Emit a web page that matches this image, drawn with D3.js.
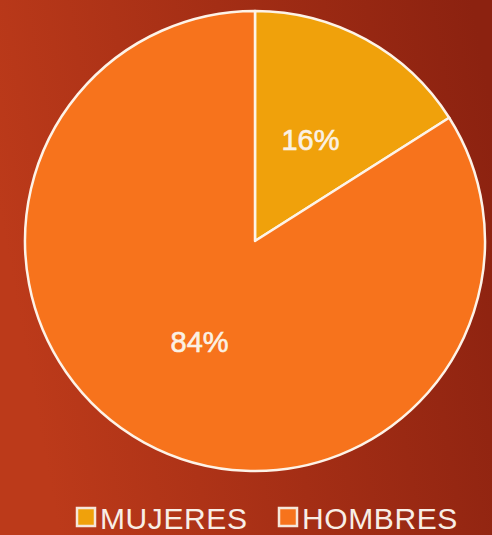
<!DOCTYPE html>
<html>
<head>
    <script src="https://d3js.org/d3.v7.min.js"></script>
    <style>
        body {
            margin: 0;
            overflow: hidden;
        }
        .slice-label {
            fill: #fbf1e4;
            stroke: #fbf1e4;
            stroke-width: 0.6px;
            font-family: 'Liberation Sans', Arial, sans-serif;
            font-size: 29px;
            text-anchor: middle;
        }
        .legend-label {
            fill: #f8eee6;
            font-family: 'Liberation Sans', Arial, sans-serif;
            font-size: 30px;
            letter-spacing: 0.6px;
        }
    </style>
</head>
<body>
<div id="chart"></div>
<script>
    const categories = ["MUJERES", "HOMBRES"];
    const values = [16, 84];
    const labels = ["16%", "84%"];
    const colors = ["#f0a10b", "#f7731c"];

    const width = 492, height = 535;
    const cx = 255, cy = 241, radius = 230;

    const svg = d3.select('#chart').append('svg')
        .attr("width", width)
        .attr("height", height);

    const defs = svg.append("defs");
    const grad = defs.append("linearGradient")
        .attr("id", "bg")
        .attr("x1", "0%").attr("y1", "40%")
        .attr("x2", "100%").attr("y2", "20%");
    grad.append("stop").attr("offset", "0%").attr("stop-color", "#bc3a1a");
    grad.append("stop").attr("offset", "100%").attr("stop-color", "#8c2210");

    svg.append("rect")
        .attr("width", width)
        .attr("height", height)
        .attr("fill", "url(#bg)");

    const data = categories.map((c, i) => ({ name: c, value: values[i], label: labels[i], color: colors[i] }));

    const pie = d3.pie().value(d => d.value).sort(null);
    const arc = d3.arc().innerRadius(0).outerRadius(radius);

    const g = svg.append("g").attr("transform", `translate(${cx},${cy})`);

    const arcs = pie(data);

    g.selectAll("path")
        .data(arcs)
        .join("path")
        .attr("d", arc)
        .attr("fill", d => d.data.color)
        .attr("stroke", "#fdf3e8")
        .attr("stroke-width", 2.5)
        .attr("stroke-linejoin", "round");

    g.selectAll("text")
        .data(arcs)
        .join("text")
        .attr("class", "slice-label")
        .attr("x", d => arc.centroid(d)[0])
        .attr("y", d => arc.centroid(d)[1] + 10)
        .text(d => d.data.label);

    // legend
    const legendX = d3.scalePoint().domain(categories).range([76, 278]);
    const legend = svg.append("g").selectAll("g")
        .data(data)
        .join("g")
        .attr("transform", d => `translate(${legendX(d.name)},507)`);

    legend.append("rect")
        .attr("x", 1).attr("y", 1)
        .attr("width", 18).attr("height", 18)
        .attr("fill", d => d.color)
        .attr("stroke", "#f6e7da")
        .attr("stroke-width", 2.5);

    legend.append("text")
        .attr("class", "legend-label")
        .attr("x", 24)
        .attr("y", 21.5)
        .text(d => d.name);
</script>
</body>
</html>
